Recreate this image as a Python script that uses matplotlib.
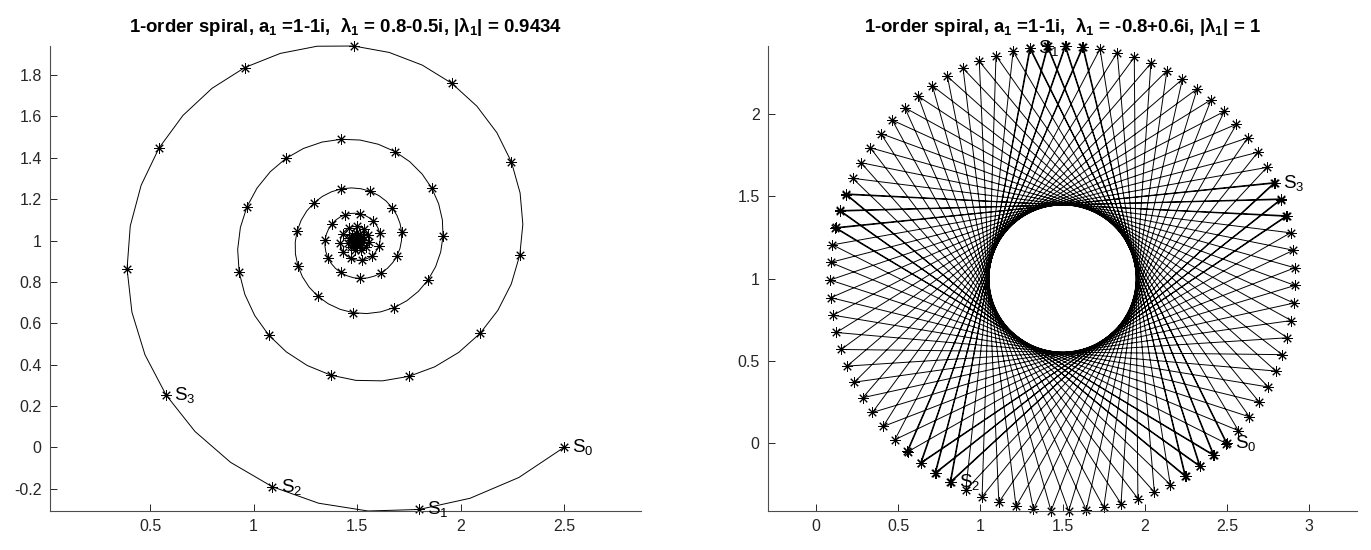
import numpy as np
import matplotlib
matplotlib.use('Agg')
import matplotlib.pyplot as plt
from matplotlib.ticker import FuncFormatter

plt.rcParams['font.family'] = ['Liberation Sans', 'DejaVu Sans']
plt.rcParams['mathtext.fontset'] = 'custom'
plt.rcParams['mathtext.rm'] = 'Liberation Sans'
plt.rcParams['mathtext.it'] = 'Liberation Sans:italic'
plt.rcParams['mathtext.bf'] = 'Liberation Sans:bold'
plt.rcParams['axes.unicode_minus'] = False

# spiral parameters (as printed in the titles)
center = 1.5 + 1.0j
a1 = 1 - 1j
lam_left = 0.8 - 0.5j
lam_right = -0.8 + 0.6j
n_last = 100          # S_0 ... S_100
sub_steps = 3         # left curve is drawn at thirds of a step
label_idx = [0, 1, 2, 3]

titles = [
    r'1-order spiral, a$_\mathbf{1}$ =1-1i,  λ$_\mathbf{1}$ = 0.8-0.5i, |λ$_\mathbf{1}$| = 0.9434',
    r'1-order spiral, a$_\mathbf{1}$ =1-1i,  λ$_\mathbf{1}$ = -0.8+0.6i, |λ$_\mathbf{1}$| = 1',
]
xticks_left = [0.5, 1, 1.5, 2, 2.5]
yticks_left = [-0.2, 0, 0.2, 0.4, 0.6, 0.8, 1, 1.2, 1.4, 1.6, 1.8]
xticks_right = [0, 0.5, 1, 1.5, 2, 2.5, 3]
yticks_right = [0, 0.5, 1, 1.5, 2]

AX_COL = '#262626'
star = (8, 2, 0)  # asterisk marker like matlab '*'


def style_axes(ax, xt, yt):
    for s in ['top', 'right']:
        ax.spines[s].set_visible(False)
    for s in ['left', 'bottom']:
        ax.spines[s].set_color('#4d4d4d')
        ax.spines[s].set_linewidth(0.8)
    ax.set_xticks(xt)
    ax.set_yticks(yt)
    fmt = FuncFormatter(lambda v, p: '%g' % v)
    ax.xaxis.set_major_formatter(fmt)
    ax.yaxis.set_major_formatter(fmt)
    ax.tick_params(direction='in', length=5, width=0.7, colors=AX_COL,
                   labelsize=11.5, pad=6)


def fit_equal(ax, pts, box_w, box_h):
    # tight limits on data, then widen the short side so units are equal
    x0, x1 = pts.real.min(), pts.real.max()
    y0, y1 = pts.imag.min(), pts.imag.max()
    sx = (x1 - x0) / box_w
    sy = (y1 - y0) / box_h
    s = max(sx, sy)
    xm, ym = (x0 + x1) / 2, (y0 + y1) / 2
    ax.set_xlim(xm - s * box_w / 2, xm + s * box_w / 2)
    ax.set_ylim(ym - s * box_h / 2, ym + s * box_h / 2)


def label_points(ax, pts):
    for k in label_idx:
        ax.annotate('S$_{%d}$' % k, (pts[k].real, pts[k].imag), xytext=(6, 0),
                    textcoords='offset points', va='center', ha='left',
                    fontsize=13.5, color='black')


fig = plt.figure(figsize=[13.71, 5.5], dpi=100)
box_w, box_h = 591 / 1371, 465 / 550
ax1 = fig.add_axes([50 / 1371, 1 - 511 / 550, box_w, box_h])
ax2 = fig.add_axes([768 / 1371, 1 - 511 / 550, 589 / 1371, box_h])

# left: decaying spiral, smooth curve + stars at integer steps
t = np.arange(n_last * sub_steps + 1) / sub_steps
curve = center + a1 * lam_left ** t
n = np.arange(n_last + 1)
pts_l = center + a1 * lam_left ** n
ax1.plot(curve.real, curve.imag, color='k', lw=0.7)
ax1.plot(pts_l.real, pts_l.imag, ls='none', marker=star, ms=7.5, mew=0.7, mec='k')
label_points(ax1, pts_l)
style_axes(ax1, xticks_left, yticks_left)
fit_equal(ax1, curve, 591, 465)
ax1.set_title(titles[0], fontsize=13.4, fontweight='bold', pad=10)

# right: unit modulus, chords between successive points
pts_r = center + a1 * lam_right ** n
ax2.plot(pts_r.real, pts_r.imag, color='k', lw=0.7, marker=star, ms=7.5, mew=0.7, mec='k')
label_points(ax2, pts_r)
style_axes(ax2, xticks_right, yticks_right)
fit_equal(ax2, pts_r, 589, 465)
ax2.set_title(titles[1], fontsize=13.4, fontweight='bold', pad=10)

for ax in (ax1, ax2):
    for ln in ax.lines:
        ln.set_clip_on(False)

fig.savefig('out.png', dpi=100)
